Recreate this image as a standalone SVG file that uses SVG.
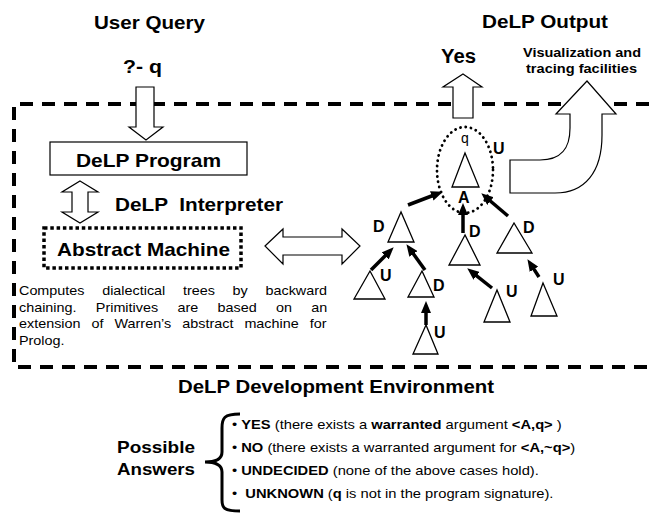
<svg xmlns="http://www.w3.org/2000/svg" width="649" height="515" viewBox="0 0 649 515">
  <style>
    text { font-family: "Liberation Sans", Arial, sans-serif; fill: #000; }
    .b { font-weight: bold; }
    .pre { white-space: pre; }
    .block { fill: #fff; stroke: #000; stroke-width: 1.2; stroke-linejoin: miter; }
    .tri { fill: #fff; stroke: #000; stroke-width: 1.3; stroke-linejoin: miter; }
    .lbl { font-weight: bold; font-size: 16px; }
    .edge { stroke: #000; stroke-width: 3.5; fill: none; marker-end: url(#head); }
    .env { fill: none; stroke: #000; stroke-width: 4; stroke-dasharray: 13 9; }
  </style>
  <defs>
    <marker id="head" markerUnits="userSpaceOnUse" markerWidth="12" markerHeight="10" refX="4" refY="5" orient="auto">
      <path d="M0,0 L12,5 L0,10 Z" fill="#000"/>
    </marker>
  </defs>

  <rect width="649" height="515" fill="#fff"/>

  <!-- development environment frame (open on the right) -->
  <path class="env" d="M649,104 H14 V367 H649"/>

  <!-- headings -->
  <text class="b" x="94" y="29" font-size="18" textLength="111" lengthAdjust="spacingAndGlyphs">User Query</text>
  <text class="b" x="482" y="28" font-size="18" textLength="126" lengthAdjust="spacingAndGlyphs">DeLP Output</text>

  <!-- query -->
  <g id="query">
    <text class="b" x="123" y="73" font-size="18" textLength="39" lengthAdjust="spacingAndGlyphs">?- q</text>
    <path class="block" d="M136,87 H154 V127 H163 L146,140 L129,127 H136 Z"/>
  </g>

  <!-- program box -->
  <g id="program">
    <rect x="50" y="142" width="197" height="33" fill="#fff" stroke="#000" stroke-width="1.2"/>
    <text class="b" x="76" y="167" font-size="19" textLength="145" lengthAdjust="spacingAndGlyphs">DeLP Program</text>
  </g>

  <!-- interpreter link -->
  <g id="interpreter">
    <path class="block" d="M80,181 L98,192 L88,192 L88,212 L98,212 L80,223 L62,212 L72,212 L72,192 L62,192 Z"/>
    <text class="b pre" x="115" y="211" font-size="19" textLength="168" lengthAdjust="spacingAndGlyphs">DeLP  Interpreter</text>
  </g>

  <!-- abstract machine -->
  <g id="machine">
    <rect x="44" y="228" width="197" height="40" fill="none" stroke="#000" stroke-width="3.5" stroke-dasharray="3.5 2.8"/>
    <text class="b" x="57" y="256" font-size="19" textLength="173" lengthAdjust="spacingAndGlyphs">Abstract Machine</text>
  </g>

  <!-- machine description, justified -->
  <g id="description" transform="translate(19,0) scale(1.15,1)" font-size="12.5">
    <text x="0" y="295" word-spacing="11.9">Computes dialectical trees by backward</text>
    <text x="0" y="312" word-spacing="13.3">chaining. Primitives are based on an</text>
    <text x="0" y="328" word-spacing="6.1">extension of Warren’s abstract machine for</text>
    <text x="0" y="345">Prolog.</text>
  </g>

  <!-- machine <-> tree link -->
  <path id="machine-tree" class="block" d="M265,246 L283,229 L283,237 L342,237 L342,229 L360,246 L342,264 L342,255 L283,255 L283,264 Z"/>

  <!-- dialectical tree nodes -->
  <g id="root">
    <ellipse cx="465" cy="170" rx="28" ry="43" fill="none" stroke="#000" stroke-width="2.8" stroke-dasharray="0.1 5.2" stroke-linecap="round"/>
    <text x="461" y="143" font-size="14">q</text>
    <polygon class="tri" points="465,153 452,187 479,187"/>
    <text class="lbl" x="458" y="203" font-size="15">A</text>
    <text class="lbl" x="493" y="154">U</text>
  </g>
  <g id="d-left">
    <polygon class="tri" points="401,212 388,242 414,242"/>
    <text class="lbl" x="373" y="232">D</text>
  </g>
  <g id="d-mid">
    <polygon class="tri" points="465,235 449,265 480,265"/>
    <text class="lbl" x="469" y="237">D</text>
  </g>
  <g id="d-right">
    <polygon class="tri" points="514,223 497,253 532,253"/>
    <text class="lbl" x="523" y="233">D</text>
  </g>
  <g id="u-left">
    <polygon class="tri" points="370,271 354,299 385,299"/>
    <text class="lbl" x="380" y="281">U</text>
  </g>
  <g id="d-inner">
    <polygon class="tri" points="422,271 408,297 434,297"/>
    <text class="lbl" x="433" y="291">D</text>
  </g>
  <g id="u-bottom">
    <polygon class="tri" points="426,325 413,354 438,354"/>
    <text class="lbl" x="434" y="338">U</text>
  </g>
  <g id="u-mid">
    <polygon class="tri" points="497,290 484,322 510,322"/>
    <text class="lbl" x="506" y="297">U</text>
  </g>
  <g id="u-right">
    <polygon class="tri" points="543,283 531,316 557,316"/>
    <text class="lbl" x="553" y="285">U</text>
  </g>

  <!-- attack edges -->
  <g id="connectors">
    <line class="edge" x1="408" y1="205" x2="435.5" y2="194.5"/>
    <line class="edge" x1="463" y1="233" x2="463" y2="211"/>
    <line class="edge" x1="508" y1="216" x2="487.4" y2="198.5"/>
    <line class="edge" x1="371" y1="270" x2="388" y2="253"/>
    <line class="edge" x1="425" y1="270" x2="411.1" y2="250.7"/>
    <line class="edge" x1="426" y1="325" x2="426" y2="309"/>
    <line class="edge" x1="492" y1="288" x2="473.5" y2="273.3"/>
    <line class="edge" x1="539" y1="277" x2="531.8" y2="265.9"/>
  </g>

  <!-- outputs -->
  <g id="answer">
    <path class="block" d="M463,74 L482,87 L473,87 L473,118 L453,118 L453,87 L443,87 Z"/>
    <text class="b" x="441" y="63" font-size="20" textLength="35" lengthAdjust="spacingAndGlyphs">Yes</text>
  </g>
  <g id="visualization">
    <path class="block" d="M510,160 L540,160 C562,160 570,148 570,128 L570,114 L556,114 L587,81 L616,114 L602,114 L602,135 C602,172 585,193 555,193 L510,193 Z"/>
    <text class="b" x="523" y="57" font-size="13.5" textLength="118" lengthAdjust="spacingAndGlyphs">Visualization and</text>
    <text class="b" x="526" y="73" font-size="13.5" textLength="111" lengthAdjust="spacingAndGlyphs">tracing facilities</text>
  </g>

  <text class="b" x="178" y="393" font-size="19" textLength="316" lengthAdjust="spacingAndGlyphs">DeLP Development Environment</text>

  <!-- possible answers -->
  <g id="answers">
    <text class="b" x="156" y="453" font-size="17" text-anchor="middle" textLength="78" lengthAdjust="spacingAndGlyphs">Possible</text>
    <text class="b" x="156" y="475" font-size="17" text-anchor="middle" textLength="78" lengthAdjust="spacingAndGlyphs">Answers</text>
    <path d="M240,414 C224,414 222,418 222,428 L222,452 C222,459 216,462 205,462 C216,462 222,465 222,472 L222,500 C222,508 224,511 240,511" fill="none" stroke="#000" stroke-width="3"/>
    <g transform="translate(232,0) scale(1.15,1)" font-size="12.8">
      <text class="pre" x="0" y="429">• <tspan class="b">YES</tspan> (there exists a <tspan class="b">warranted</tspan> argument <tspan class="b">&lt;A,q&gt;</tspan> )</text>
      <text class="pre" x="0" y="452">• <tspan class="b">NO</tspan> (there exists a warranted argument for <tspan class="b">&lt;A,~q&gt;</tspan>)</text>
      <text class="pre" x="0" y="475">• <tspan class="b">UNDECIDED</tspan> (none of the above cases hold).</text>
      <text class="pre" x="0" y="498">•  <tspan class="b">UNKNOWN</tspan> (<tspan class="b">q</tspan> is not in the program signature).</text>
    </g>
  </g>
</svg>
